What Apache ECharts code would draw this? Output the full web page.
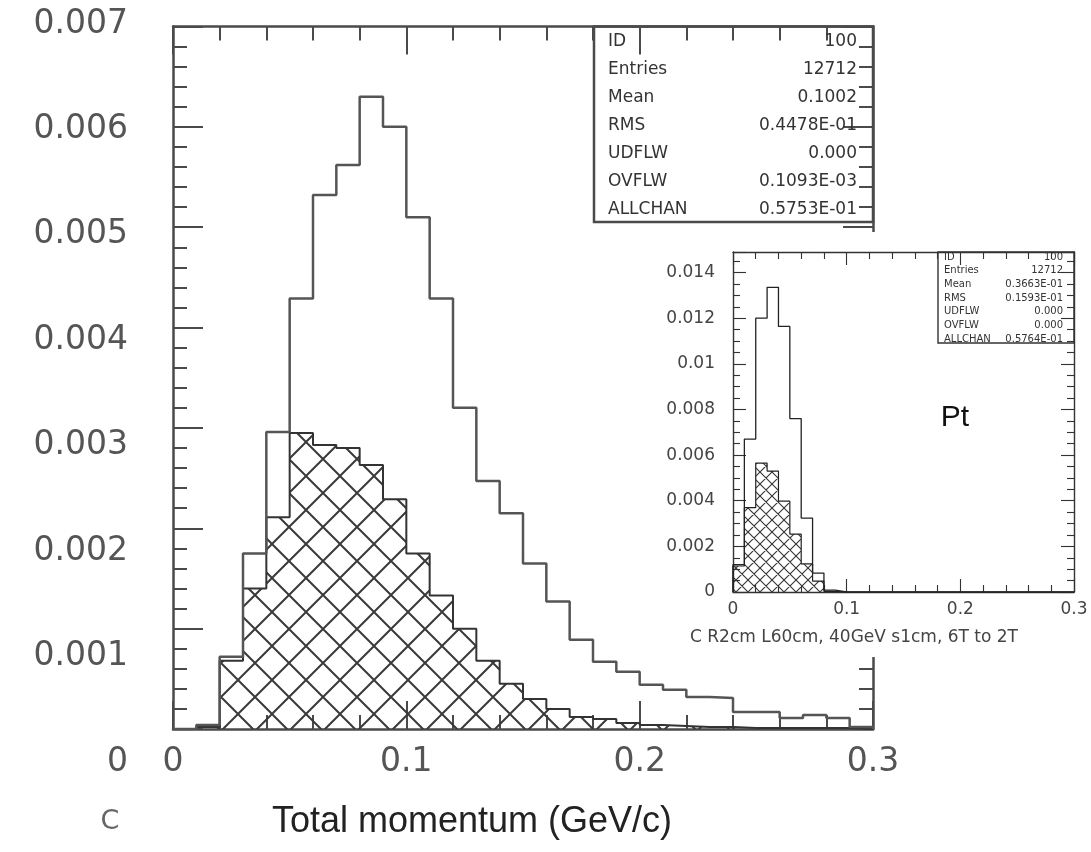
<!DOCTYPE html>
<html>
<head>
<meta charset="utf-8">
<script src="https://cdn.jsdelivr.net/npm/echarts@6/dist/echarts.min.js"></script>
<style>
  html, body { margin: 0; padding: 0; background: #fff; }
  #main { position: absolute; left: 0; top: 0; width: 1091px; height: 852px; }
  #inset { position: absolute; left: 640px; top: 232px; width: 451px; height: 425px; background: #fff; }
</style>
</head>
<body>
<div id="main"></div>
<div id="inset"></div>
<script>
// Histogram bins are 0.01 GeV/c wide, starting at 0.
const binWidth = 0.01;

// Total momentum: all entries (open) and the selected subset (hatched)
const momentumAll = [
  0, 0.00004, 0.00072, 0.00175, 0.00296, 0.00429, 0.00532, 0.00562, 0.00630, 0.00600,
  0.00510, 0.00429, 0.00320, 0.00247, 0.00215, 0.00165, 0.00127, 0.00089, 0.00067, 0.00057,
  0.00044, 0.00039, 0.00032, 0.00031, 0.00017, 0.00017, 0.00011, 0.00014, 0.00011, 0.00002
];
const momentumSel = [
  0, 0.00002, 0.00068, 0.00140, 0.00211, 0.00295, 0.00283, 0.00280, 0.00263, 0.00229,
  0.00175, 0.00133, 0.00100, 0.00068, 0.00045, 0.00030, 0.00020, 0.00012, 0.00010, 0.00006,
  0.00004, 0.00003, 0.00002, 0.00002, 0.00001, 0.00001, 0.00001, 0.00001, 0.00001, 0
];

// Transverse momentum (inset)
const ptAll = [
  0.00120, 0.00670, 0.01200, 0.01335, 0.01164, 0.00760, 0.00324, 0.00083, 0.00008, 0,
  0, 0, 0, 0, 0, 0, 0, 0, 0, 0, 0, 0, 0, 0, 0, 0, 0, 0, 0, 0
];
const ptSel = [
  0.00114, 0.00370, 0.00565, 0.00530, 0.00398, 0.00254, 0.00123, 0.00048, 0.00003, 0,
  0, 0, 0, 0, 0, 0, 0, 0, 0, 0, 0, 0, 0, 0, 0, 0, 0, 0, 0, 0
];

// Statistics boxes
const statNames = ['ID', 'Entries', 'Mean', 'RMS', 'UDFLW', 'OVFLW', 'ALLCHAN'];
const momentumStats = ['100', '12712', '0.1002', '0.4478E-01', '0.000', '0.1093E-03', '0.5753E-01'];
const ptStats = ['100', '12712', '0.3663E-01', '0.1593E-01', '0.000', '0.000', '0.5764E-01'];

const xTitle = 'Total momentum (GeV/c)';
const insetCaption = 'C R2cm L60cm, 40GeV s1cm, 6T to 2T';
const insetTag = 'Pt';
const cornerMark = 'C';

// Turn bin contents into the corner points of a step outline
function stepPoints(values) {
  const pts = [[0, 0]];
  values.forEach((v, i) => pts.push([+(i * binWidth).toFixed(2), v]));
  pts.push([+(values.length * binWidth).toFixed(2), 0]);
  return pts;
}

// Cross-hatch tile used to fill the selected histograms
function crossHatch(size, color, width) {
  const c = document.createElement('canvas');
  c.width = size; c.height = size;
  const g = c.getContext('2d');
  g.strokeStyle = color;
  g.lineWidth = width;
  g.beginPath();
  for (const off of [-size, 0, size]) {
    g.moveTo(off, 0); g.lineTo(off + size, size);
    g.moveTo(off + size, 0); g.lineTo(off, size);
  }
  g.stroke();
  return { image: c, repeat: 'repeat' };
}

// A frame side: axis line plus inward major and minor ticks
function frameAxis(extra, color, width, major, minor, split) {
  return Object.assign({
    type: 'value',
    axisLine: { show: true, onZero: false, lineStyle: { color: color, width: width } },
    axisTick: { show: true, inside: true, length: major, lineStyle: { color: color, width: width * 0.8 } },
    minorTick: { show: true, splitNumber: split, length: minor, lineStyle: { color: color, width: width * 0.8 } },
    splitLine: { show: false },
    axisLabel: { show: false }
  }, extra);
}

// ---------- Main histogram ----------
const mainColor = '#4a4a4a';
const main = echarts.init(document.getElementById('main'), null, { renderer: 'canvas' });

const statsGraphics = [];
statNames.forEach((name, i) => {
  statsGraphics.push({
    type: 'text', x: 608, y: 42 + i * 28, z: 50,
    style: { text: name, fill: '#333', font: '17px "DejaVu Sans"', textVerticalAlign: 'middle' }
  });
  statsGraphics.push({
    type: 'text', x: 857, y: 42 + i * 28, z: 50,
    style: { text: momentumStats[i], fill: '#333', font: '17px "DejaVu Sans"', textAlign: 'right', textVerticalAlign: 'middle' }
  });
});

main.setOption({
  animation: false,
  grid: [
    { left: 173, top: 26.5, width: 700, height: 702.5, outerBoundsMode: 'none', containLabel: false },
    { left: 140, top: 24, width: 10, height: 738, outerBoundsMode: 'none', containLabel: false }
  ],
  xAxis: [
    frameAxis({ gridIndex: 0, position: 'bottom', min: 0, max: 0.3, interval: 0.1,
      axisLabel: { show: true, margin: 17, fontSize: 33, fontFamily: 'DejaVu Sans', color: '#555' } },
      mainColor, 2.5, 28, 14, 5),
    frameAxis({ gridIndex: 0, position: 'top', min: 0, max: 0.3, interval: 0.1 }, mainColor, 2.5, 28, 14, 5),
    { gridIndex: 1, type: 'value', min: 0, max: 1, show: false }
  ],
  yAxis: [
    frameAxis({ gridIndex: 0, position: 'left', min: 0, max: 0.007, interval: 0.001 }, mainColor, 2.5, 30, 14, 5),
    frameAxis({ gridIndex: 0, position: 'right', min: 0, max: 0.007, interval: 0.001 }, mainColor, 2.5, 30, 14, 5),
    {
      gridIndex: 1, type: 'value', min: 0, max: 0.007, interval: 0.001,
      axisLine: { show: false }, axisTick: { show: false }, splitLine: { show: false },
      axisLabel: { show: true, margin: 12, fontSize: 33, fontFamily: 'DejaVu Sans', color: '#555' }
    }
  ],
  series: [
    {
      type: 'line', xAxisIndex: 0, yAxisIndex: 0, step: 'end', symbol: 'none',
      data: stepPoints(momentumSel),
      lineStyle: { color: '#333', width: 2 },
      areaStyle: { color: crossHatch(34, '#3a3a3a', 2), opacity: 1 },
      z: 3
    },
    {
      type: 'line', xAxisIndex: 0, yAxisIndex: 0, step: 'end', symbol: 'none',
      data: stepPoints(momentumAll),
      lineStyle: { color: '#555', width: 2.5 },
      z: 4
    }
  ],
  graphic: {
    elements: [
      { type: 'rect', z: 40, shape: { x: 594, y: 26.5, width: 279, height: 195.5 },
        style: { fill: 'none', stroke: mainColor, lineWidth: 2.5 } },
      ...statsGraphics,
      { type: 'text', x: 472, y: 822, z: 50,
        style: { text: xTitle, fill: '#222', font: '36px "Liberation Sans"', textAlign: 'center', textVerticalAlign: 'middle' } },
      { type: 'text', x: 110, y: 822, z: 50,
        style: { text: cornerMark, fill: '#666', font: '27px "DejaVu Sans"', textAlign: 'center', textVerticalAlign: 'middle' } }
    ]
  }
});

// ---------- Inset: transverse momentum ----------
const insetColor = '#333';
const inset = echarts.init(document.getElementById('inset'), null, { renderer: 'canvas' });

const ptGraphics = [];
statNames.forEach((name, i) => {
  ptGraphics.push({
    type: 'text', x: 304, y: 25 + i * 13.7, z: 50,
    style: { text: name, fill: '#333', font: '10px "DejaVu Sans"', textVerticalAlign: 'middle' }
  });
  ptGraphics.push({
    type: 'text', x: 423, y: 25 + i * 13.7, z: 50,
    style: { text: ptStats[i], fill: '#333', font: '10px "DejaVu Sans"', textAlign: 'right', textVerticalAlign: 'middle' }
  });
});

inset.setOption({
  animation: false,
  grid: { left: 93, top: 20, right: 17, bottom: 65, outerBoundsMode: 'none', containLabel: false },
  xAxis: [
    frameAxis({ position: 'bottom', min: 0, max: 0.3, interval: 0.1,
      axisLabel: { show: true, margin: 9, fontSize: 17, fontFamily: 'DejaVu Sans', color: '#444' } },
      insetColor, 1.4, 13, 7, 5),
    frameAxis({ position: 'top', min: 0, max: 0.3, interval: 0.1 }, insetColor, 1.4, 13, 7, 5)
  ],
  yAxis: [
    frameAxis({ position: 'left', min: 0, max: 0.0149, interval: 0.002,
      axisLabel: { show: true, showMaxLabel: false, margin: 18, fontSize: 17, fontFamily: 'DejaVu Sans', color: '#444' } },
      insetColor, 1.4, 13, 7, 4),
    frameAxis({ position: 'right', min: 0, max: 0.0149, interval: 0.002 }, insetColor, 1.4, 13, 7, 4)
  ],
  series: [
    {
      type: 'line', step: 'end', symbol: 'none',
      data: stepPoints(ptSel),
      lineStyle: { color: '#222', width: 1.2 },
      areaStyle: { color: crossHatch(12, '#333', 1.1), opacity: 1 },
      z: 3
    },
    {
      type: 'line', step: 'end', symbol: 'none',
      data: stepPoints(ptAll),
      lineStyle: { color: '#222', width: 1.3 },
      z: 4
    }
  ],
  graphic: {
    elements: [
      { type: 'rect', z: 40, shape: { x: 298, y: 20, width: 136, height: 91 },
        style: { fill: 'none', stroke: insetColor, lineWidth: 1.4 } },
      ...ptGraphics,
      { type: 'text', x: 315, y: 186, z: 50,
        style: { text: insetTag, fill: '#111', font: '30px "Liberation Sans"', textAlign: 'center', textVerticalAlign: 'middle' } },
      { type: 'text', x: 50, y: 406, z: 50,
        style: { text: insetCaption, fill: '#444', font: '17px "DejaVu Sans"', textVerticalAlign: 'middle' } }
    ]
  }
});
</script>
</body>
</html>
